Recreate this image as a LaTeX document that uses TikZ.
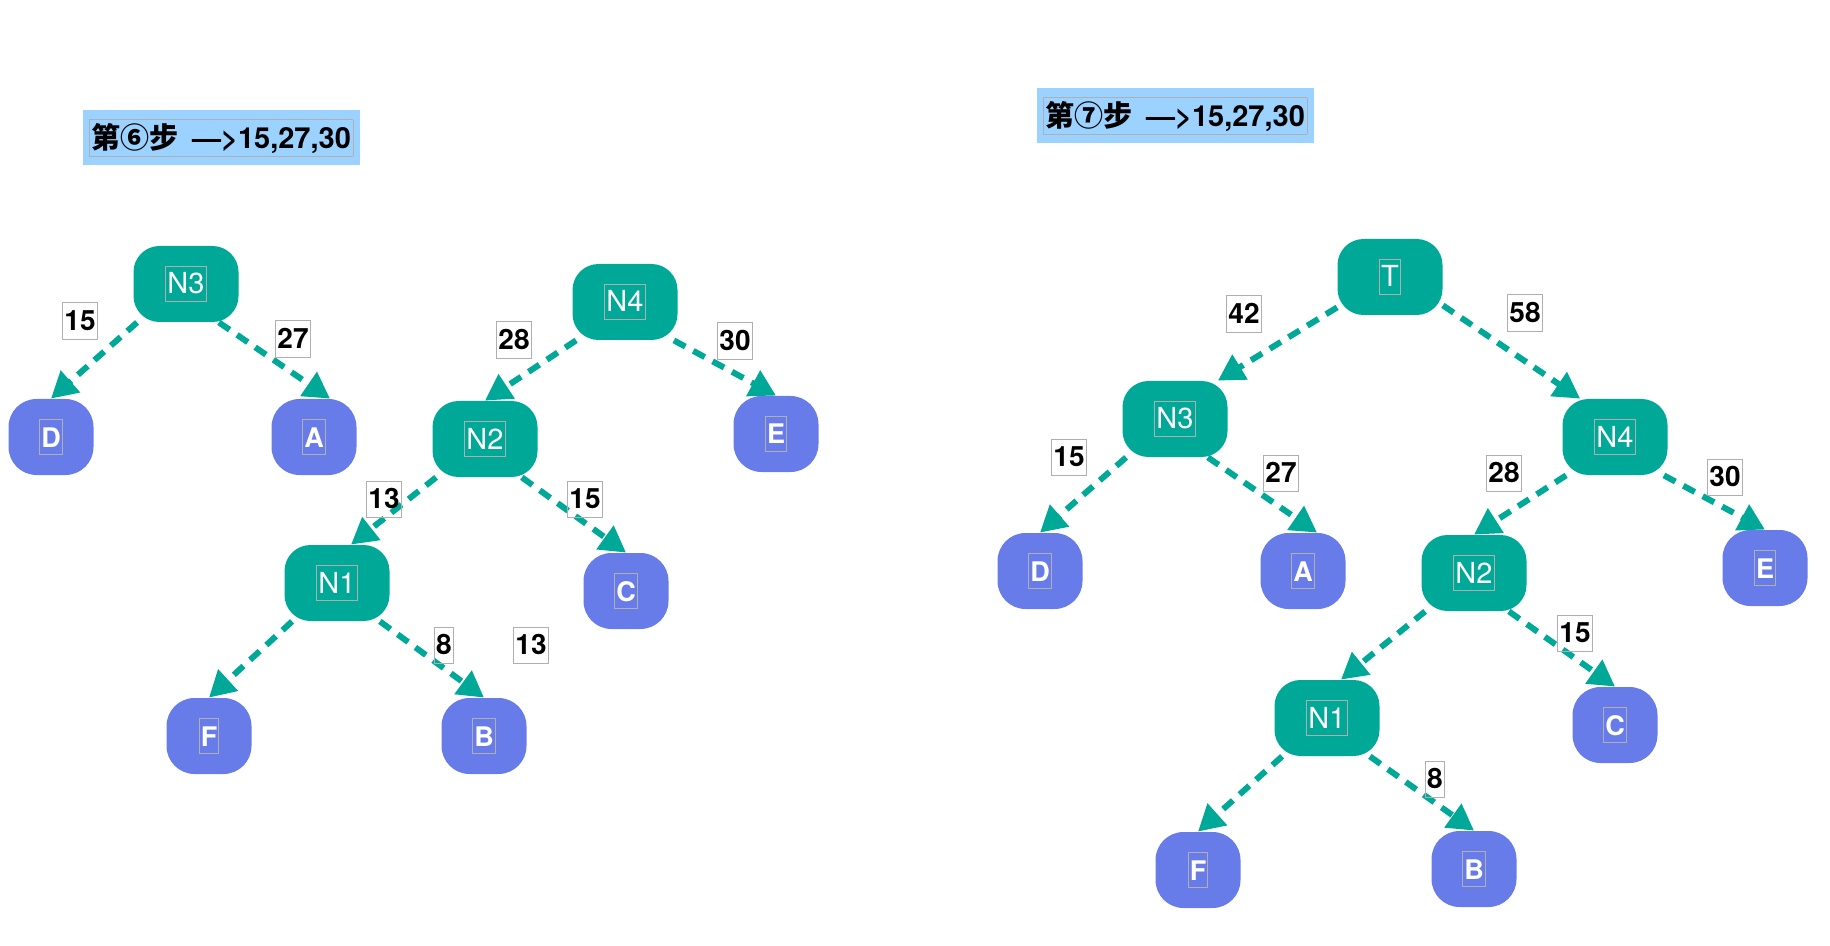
\documentclass[tikz,border=0pt]{standalone}
\usepackage{fontspec}
\setmainfont{TeX Gyre Heros}
\newfontfamily\cjkfont{Noto Sans CJK SC}
\usetikzlibrary{arrows.meta}

\definecolor{nodeteal}{RGB}{0,168,152}
\definecolor{leafblue}{RGB}{104,124,233}
\definecolor{titleblue}{RGB}{155,210,255}
\definecolor{framegray}{RGB}{175,175,175}

% thin grey frame round a text, as the editor shows it
\newcommand{\txtframe}[2]{{\color{framegray}\setlength{\fboxsep}{0.6pt}\setlength{\fboxrule}{0.4pt}\fbox{\color{#1}\rule[-3pt]{0pt}{16pt}#2}}}
\newcommand{\titleframe}[1]{{\color{framegray}\setlength{\fboxsep}{0.8pt}\setlength{\fboxrule}{0.4pt}\fbox{\color{black}\rule[-2.7pt]{0pt}{16.1pt}#1}}}

\begin{document}
\begin{tikzpicture}[
    x=0.5pt, y=-0.5pt,
    treenode/.style={fill=nodeteal, rounded corners=13pt, minimum width=52.5pt, minimum height=38pt, inner sep=0pt, text=white, font=\fontsize{14.5}{17}\selectfont},
    leafnode/.style={fill=leafblue, rounded corners=14pt, minimum width=42.5pt, minimum height=38pt, inner sep=0pt, text=white, font=\fontsize{13.5}{17}\selectfont\bfseries},
    wlabel/.style={draw=framegray, line width=0.4pt, inner xsep=1pt, inner ysep=0.8pt, text height=13pt, text depth=3.5pt, font=\fontsize{14}{17}\selectfont\bfseries},
    steptitle/.style={fill=titleblue, minimum width=138.5pt, minimum height=27.5pt, inner sep=0pt, font=\fontsize{14.5}{19}\selectfont\bfseries},
    link/.style={draw=nodeteal, line width=3pt, dash pattern=on 6.5pt off 4.5pt, -{Triangle[length=13pt,width=14pt]}}
]
    \useasboundingbox (0,0) rectangle (1830,946);

    % Step 6
    \node[steptitle] (t6) at (221,138) {\titleframe{{\cjkfont 第⑥步}\hspace{7pt}—>15,27,30}};

    \node[treenode] (lN3) at (186,284) {\txtframe{white}{N3}};
    \node[treenode] (lN4) at (625,302) {\txtframe{white}{N4}};
    \node[treenode] (lN2) at (485,439) {\txtframe{white}{N2}};
    \node[treenode] (lN1) at (337,583) {\txtframe{white}{N1}};
    \node[leafnode] (lD) at (51,437) {\txtframe{white}{D}};
    \node[leafnode] (lA) at (314,437) {\txtframe{white}{A}};
    \node[leafnode] (lE) at (776,434) {\txtframe{white}{E}};
    \node[leafnode] (lC) at (626,591) {\txtframe{white}{C}};
    \node[leafnode] (lF) at (209,736) {\txtframe{white}{F}};
    \node[leafnode] (lB) at (484,736) {\txtframe{white}{B}};

    \draw[link] ([xshift=2pt]lN3.south west) -- (lD.north);
    \draw[link] ([xshift=-10pt]lN3.south east) -- ([xshift=8pt]lA.north);
    \draw[link] ([xshift=2pt]lN4.south west) -- (lN2.north);
    \draw[link] ([xshift=-2pt]lN4.south east) -- (lE.north);
    \draw[link] ([xshift=2pt]lN2.south west) -- ([xshift=7pt]lN1.north);
    \draw[link] ([xshift=-8pt]lN2.south east) -- (lC.north);
    \draw[link] ([xshift=4pt]lN1.south west) -- (lF.north);
    \draw[link] ([xshift=-5pt]lN1.south east) -- (lB.north);

    \node[wlabel] (lw1) at (80,321) {15};
    \node[wlabel] (lw2) at (293,339) {27};
    \node[wlabel] (lw3) at (514,340) {28};
    \node[wlabel] (lw4) at (735,341) {30};
    \node[wlabel] (lw5) at (384,499) {13};
    \node[wlabel] (lw6) at (585,499) {15};
    \node[wlabel] (lw7) at (444,645) {8};
    \node[wlabel] (lw8) at (531,645) {13};

    % Step 7
    \node[steptitle] (t7) at (1175,116) {\titleframe{{\cjkfont 第⑦步}\hspace{7pt}—>15,27,30}};

    \node[treenode] (rT) at (1390,277) {\txtframe{white}{T}};
    \node[treenode] (rN3) at (1175,419) {\txtframe{white}{N3}};
    \node[treenode] (rN4) at (1615,437) {\txtframe{white}{N4}};
    \node[treenode] (rN2) at (1474,573) {\txtframe{white}{N2}};
    \node[treenode] (rN1) at (1327,718) {\txtframe{white}{N1}};
    \node[leafnode] (rD) at (1040,571) {\txtframe{white}{D}};
    \node[leafnode] (rA) at (1303,571) {\txtframe{white}{A}};
    \node[leafnode] (rE) at (1765,568) {\txtframe{white}{E}};
    \node[leafnode] (rC) at (1615,725) {\txtframe{white}{C}};
    \node[leafnode] (rF) at (1198,870) {\txtframe{white}{F}};
    \node[leafnode] (rB) at (1474,869) {\txtframe{white}{B}};

    \draw[link] ([yshift=4pt]rT.south west) -- ([xshift=-5pt]rN3.north east);
    \draw[link] ([yshift=5pt]rT.south east) -- ([xshift=9pt]rN4.north west);
    \draw[link] ([xshift=2pt]rN3.south west) -- (rD.north);
    \draw[link] ([xshift=-10pt]rN3.south east) -- ([xshift=7pt]rA.north);
    \draw[link] ([xshift=2pt]rN4.south west) -- (rN2.north);
    \draw[link] ([xshift=-2pt]rN4.south east) -- (rE.north);
    \draw[link] ([xshift=2pt]rN2.south west) -- ([xshift=7pt]rN1.north);
    \draw[link] ([xshift=-9pt]rN2.south east) -- (rC.north);
    \draw[link] ([xshift=4pt]rN1.south west) -- (rF.north);
    \draw[link] ([xshift=-5pt]rN1.south east) -- (rB.north);

    \node[wlabel] (rw1) at (1244,314) {42};
    \node[wlabel] (rw2) at (1525,313) {58};
    \node[wlabel] (rw3) at (1069,457) {15};
    \node[wlabel] (rw4) at (1281,473) {27};
    \node[wlabel] (rw5) at (1504,473) {28};
    \node[wlabel] (rw6) at (1725,477) {30};
    \node[wlabel] (rw7) at (1575,633) {15};
    \node[wlabel] (rw8) at (1435,779) {8};
\end{tikzpicture}
\end{document}
